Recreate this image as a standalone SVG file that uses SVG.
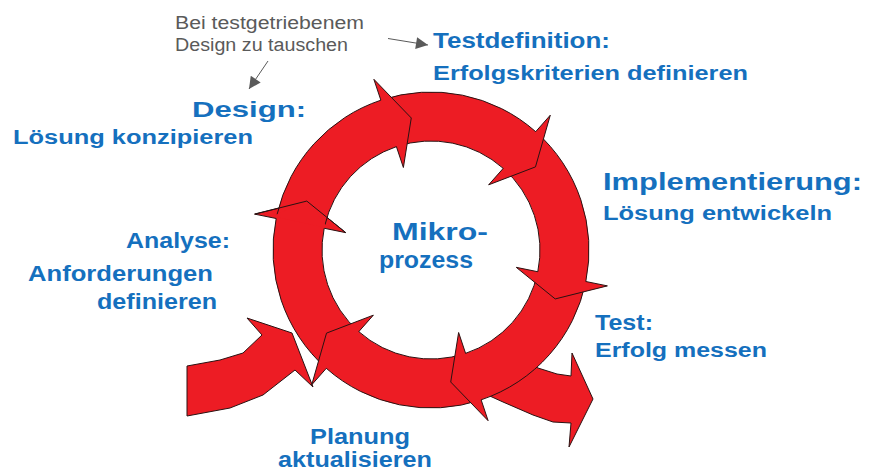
<svg xmlns="http://www.w3.org/2000/svg" width="890" height="472" viewBox="0 0 890 472">
  <style>
    .ring { fill: #ED1C24; stroke: #2a1212; stroke-width: 1; stroke-linejoin: miter; }
    .ring-fill { fill: #ED1C24; stroke: none; }
    .ring-edge { fill: none; stroke: #2a1212; stroke-width: 1; stroke-linejoin: miter; }
    .lbl { font-family: "Liberation Sans", Arial, sans-serif; font-weight: bold; fill: #1570BE; }
    .note { font-family: "Liberation Sans", Arial, sans-serif; font-size: 18px; fill: #5a5a5a; }
    .pointer { stroke: #5a5a5a; stroke-width: 1; fill: none; }
  </style>
  <defs>
    <marker id="grayHead" viewBox="0 0 10 10" refX="10" refY="5" markerWidth="14" markerHeight="12" markerUnits="userSpaceOnUse" orient="auto">
      <path d="M0,0 L10,5 L0,10 Z" fill="#5a5a5a"/>
    </marker>
  </defs>
  <rect width="890" height="472" fill="#ffffff"/>

  <!-- red cycle: entry arrow, exit arrow and six ring segments -->
  <g id="cycle-arrows">
    <path id="entry-arrow" class="ring" d="M187,366 L220,360 L243,353 L262,335 L247,318 L292,333 L313,387 L295,370 L263,395 L230,408 L187,416 Z"/>
    <path id="exit-arrow" class="ring" d="M500,345 L538,368 L557,374 L571,376 L572,353 L593,399 L569,447 L571,423 L553,422 L533,415 L503,402 L470,387 Z"/>

    <!-- ring segments, each ending in an arrowhead (clockwise) -->
    <path id="seg-planung" class="ring" d="M326.31,368.34 A158,158 0 0 1 276.17,218.50 L254.61,214.11 L306.79,201.07 L345.75,232.65 L324.19,228.27 A109,109 0 0 0 358.77,331.64 Z"/>
    <path id="seg-test" class="ring" d="M481.13,399.83 A158,158 0 0 1 326.31,368.34 L311.73,384.81 L326.52,333.11 L373.35,315.16 L358.77,331.64 A109,109 0 0 0 465.59,353.37 Z"/>
    <path id="seg-implementierung" class="ring" d="M585.83,281.50 A158,158 0 0 1 481.13,399.83 L488.11,420.70 L450.73,382.03 L458.61,332.50 L465.59,353.37 A109,109 0 0 0 537.81,271.73 Z"/>
    <path id="seg-testdefinition" class="ring" d="M535.69,131.66 A158,158 0 0 1 585.83,281.50 L607.39,285.89 L555.21,298.93 L516.25,267.35 L537.81,271.73 A109,109 0 0 0 503.23,168.36 Z"/>
    <path id="seg-design" class="ring" d="M380.87,100.17 A158,158 0 0 1 535.69,131.66 L550.27,115.19 L535.48,166.89 L488.65,184.84 L503.23,168.36 A109,109 0 0 0 396.41,146.63 Z"/>
    <path id="seg-analyse" class="ring" d="M277.05,214.46 A158,158 0 0 1 380.87,100.17 L373.89,79.30 L411.27,117.97 L403.39,167.50 L396.41,146.63 A109,109 0 0 0 324.79,225.48 Z"/>

    <!-- left arrowhead laid back over the tail of the upper-left segment -->
    <path class="ring-fill" d="M272.54,216.32 L306.79,201.07 L328.29,228.17 Z"/>
    <polyline class="ring-edge" points="254.61,214.11 306.79,201.07 345.75,232.65"/>
  </g>

  <!-- gray pointers of the side note -->
  <g id="connectors">
    <line class="pointer" x1="388" y1="38.5" x2="428" y2="45" marker-end="url(#grayHead)"/>
    <line class="pointer" x1="268" y1="61" x2="249" y2="89" marker-end="url(#grayHead)"/>
  </g>

  <g id="note">
    <text class="note" x="175" y="29" textLength="189" lengthAdjust="spacingAndGlyphs">Bei testgetriebenem</text>
    <text class="note" x="175" y="51" textLength="173" lengthAdjust="spacingAndGlyphs">Design zu tauschen</text>
  </g>

  <g id="node-testdefinition">
    <text class="lbl" x="433" y="48" font-size="22" textLength="177" lengthAdjust="spacingAndGlyphs">Testdefinition:</text>
    <text class="lbl" x="433" y="80" font-size="21" textLength="315" lengthAdjust="spacingAndGlyphs">Erfolgskriterien definieren</text>
  </g>

  <g id="node-design">
    <text class="lbl" x="192" y="117" font-size="22" textLength="114" lengthAdjust="spacingAndGlyphs">Design:</text>
    <text class="lbl" x="13" y="144" font-size="20" textLength="240" lengthAdjust="spacingAndGlyphs">Lösung konzipieren</text>
  </g>

  <g id="node-implementierung">
    <text class="lbl" x="603" y="190" font-size="23" textLength="259" lengthAdjust="spacingAndGlyphs">Implementierung:</text>
    <text class="lbl" x="603" y="220" font-size="20" textLength="229" lengthAdjust="spacingAndGlyphs">Lösung entwickeln</text>
  </g>

  <g id="node-test">
    <text class="lbl" x="595" y="330" font-size="22" textLength="58" lengthAdjust="spacingAndGlyphs">Test:</text>
    <text class="lbl" x="595" y="357" font-size="20" textLength="172" lengthAdjust="spacingAndGlyphs">Erfolg messen</text>
  </g>

  <g id="node-analyse">
    <text class="lbl" x="126" y="248" font-size="22" textLength="104" lengthAdjust="spacingAndGlyphs">Analyse:</text>
    <text class="lbl" x="28" y="281" font-size="22" textLength="185" lengthAdjust="spacingAndGlyphs">Anforderungen</text>
    <text class="lbl" x="97" y="309" font-size="22" textLength="120" lengthAdjust="spacingAndGlyphs">definieren</text>
  </g>

  <g id="node-mikroprozess">
    <text class="lbl" x="392" y="240" font-size="23" textLength="96" lengthAdjust="spacingAndGlyphs">Mikro-</text>
    <text class="lbl" x="379" y="268" font-size="23" textLength="94" lengthAdjust="spacingAndGlyphs">prozess</text>
  </g>

  <g id="node-planung">
    <text class="lbl" x="310" y="444" font-size="22" textLength="100" lengthAdjust="spacingAndGlyphs">Planung</text>
    <text class="lbl" x="278" y="467" font-size="22" textLength="154" lengthAdjust="spacingAndGlyphs">aktualisieren</text>
  </g>
</svg>
